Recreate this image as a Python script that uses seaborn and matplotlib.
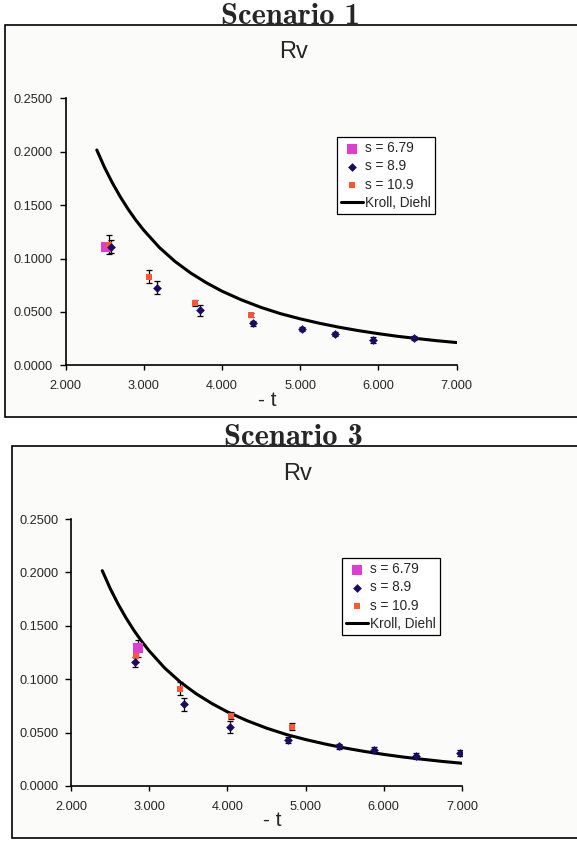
import matplotlib
matplotlib.use("Agg")
import matplotlib.pyplot as plt
from matplotlib.patches import Rectangle
import seaborn as sns
import pandas as pd

# Kroll, Diehl prediction (-t, Rv)
curve_t = [2.40, 2.50, 2.60, 2.70, 2.80, 2.90, 3.00, 3.20, 3.40, 3.60, 3.80, 4.00,
           4.25, 4.50, 4.75, 5.00, 5.25, 5.50, 5.75, 6.00, 6.25, 6.50, 6.75, 7.00]
curve_rv = [0.2016, 0.1851, 0.1707, 0.1578, 0.1462, 0.1358, 0.1265, 0.1103, 0.0972,
            0.0864, 0.0773, 0.0694, 0.0612, 0.0542, 0.0483, 0.0435, 0.0393, 0.0356,
            0.0324, 0.0296, 0.0271, 0.0250, 0.0230, 0.0213]

# Scenario 1 measurements
s1_679_t = [2.52]
s1_679_rv = [0.1105]
s1_679_err = [0.0000]
s1_89_t = [2.585, 3.17, 3.72, 4.40, 5.02, 5.44, 5.93, 6.46]
s1_89_rv = [0.1110, 0.0727, 0.0515, 0.0393, 0.0337, 0.0293, 0.0237, 0.0253]
s1_89_err = [0.0060, 0.0060, 0.0050, 0.0022, 0.0020, 0.0020, 0.0028, 0.0020]
s1_109_t = [2.55, 3.07, 3.66, 4.37]
s1_109_rv = [0.1130, 0.0830, 0.0586, 0.0471]
s1_109_err = [0.0088, 0.0058, 0.0027, 0.0020]

# Scenario 3 measurements
s3_679_t = [2.86]
s3_679_rv = [0.1290]
s3_679_err = [0.0080]
s3_89_t = [2.82, 3.44, 4.03, 4.77, 5.43, 5.88, 6.41, 6.98]
s3_89_rv = [0.1162, 0.0765, 0.0556, 0.0431, 0.0372, 0.0335, 0.0281, 0.0310]
s3_89_err = [0.0045, 0.0063, 0.0056, 0.0028, 0.0022, 0.0028, 0.0030, 0.0030]
s3_109_t = [2.83, 3.39, 4.04, 4.82]
s3_109_rv = [0.1221, 0.0912, 0.0659, 0.0556]
s3_109_err = [0.0060, 0.0063, 0.0030, 0.0030]

x_ticks = [2.0, 3.0, 4.0, 5.0, 6.0, 7.0]
y_ticks = [0.0, 0.05, 0.10, 0.15, 0.20, 0.25]

MAGENTA = "#e03bd2"
NAVY = "#1c0b66"
ORANGE = "#ff5632"
BG = "#fbfbf9"

sns.set_theme(style="white")
plt.rcParams["font.family"] = ["Liberation Sans", "DejaVu Sans"]

fig = plt.figure(figsize=(5.77, 8.43), dpi=100)
fig.patch.set_facecolor("white")
W, H = 577.0, 843.0


def fx(px):
    return px / W


def fy(py):
    return 1 - py / H


def panel(title, title_x, frame, axbox, legbox, rv_pos, xlab_y, series):
    x0, y0, x1, y1 = frame
    fig.patches.append(Rectangle((fx(x0), fy(y1)), fx(x1 - x0), (y1 - y0) / H,
                                 transform=fig.transFigure, facecolor=BG,
                                 edgecolor="black", linewidth=1.2, zorder=-5))
    fig.text(fx(title_x), fy(y0 - 1), title, family="cmb10",
             fontsize=22, ha="center", va="baseline")
    fig.text(fx(rv_pos[0]), fy(rv_pos[1]), "Rv", fontsize=17,
             ha="center", va="center")
    l, t, r, b = axbox
    ax = fig.add_axes([fx(l), fy(b), fx(r - l), (b - t) / H])
    ax.set_zorder(1)
    ax.patch.set_alpha(0)

    sns.lineplot(x=curve_t, y=curve_rv, ax=ax, color="black", linewidth=2.2,
                 label="Kroll, Diehl", zorder=2, sort=False)
    t679, r679, e679, t89, r89, e89, t109, r109, e109 = series
    for tt, rr, ee in ((t679, r679, e679), (t109, r109, e109), (t89, r89, e89)):
        ax.errorbar(tt, rr, yerr=ee, fmt="none", ecolor="black",
                    elinewidth=0.9, capsize=2.2, capthick=0.9, zorder=3)
    df679 = pd.DataFrame({"t": t679, "rv": r679})
    df89 = pd.DataFrame({"t": t89, "rv": r89})
    df109 = pd.DataFrame({"t": t109, "rv": r109})
    sns.scatterplot(data=df679, x="t", y="rv", ax=ax, marker="s", s=48,
                    color=MAGENTA, edgecolor=MAGENTA, linewidth=0,
                    label="s = 6.79", zorder=4)
    sns.scatterplot(data=df89, x="t", y="rv", ax=ax, marker="D", s=20,
                    color=NAVY, edgecolor=NAVY, linewidth=0,
                    label="s = 8.9", zorder=5)
    sns.scatterplot(data=df109, x="t", y="rv", ax=ax, marker="s", s=24,
                    color=ORANGE, edgecolor=ORANGE, linewidth=0,
                    label="s = 10.9", zorder=4)

    ax.set_xlim(2.0, 7.0)
    ax.set_ylim(0.0, 0.25)
    ax.set_xticks(x_ticks)
    ax.set_yticks(y_ticks)
    ax.set_xticklabels([f"{v:.3f}" for v in x_ticks], fontsize=9.2)
    ax.set_yticklabels([f"{v:.4f}" for v in y_ticks], fontsize=9.2)
    ax.tick_params(axis="x", direction="out", length=3.5, width=1,
                   color="black", pad=7, bottom=True)
    ax.tick_params(axis="y", direction="out", length=4, width=1,
                   color="black", pad=5, left=True)
    for side in ("top", "right"):
        ax.spines[side].set_visible(False)
    for side in ("left", "bottom"):
        ax.spines[side].set_color("black")
        ax.spines[side].set_linewidth(1.2)
    ax.set_xlabel("")
    ax.set_ylabel("")
    fig.text(fx((l + r) / 2 + 6), fy(xlab_y), "- t", fontsize=15,
             ha="center", va="center")

    handles, labels = ax.get_legend_handles_labels()
    order = [labels.index(k) for k in ("s = 6.79", "s = 8.9", "s = 10.9", "Kroll, Diehl")]
    lx0, ly0 = legbox
    leg = ax.legend([handles[i] for i in order], [labels[i] for i in order],
                    loc="upper left", bbox_to_anchor=(fx(lx0), fy(ly0)),
                    bbox_transform=fig.transFigure, fontsize=9.8,
                    frameon=True, fancybox=False, edgecolor="black",
                    framealpha=1, handlelength=1.6, handletextpad=0.15,
                    borderpad=0.3, labelspacing=0.32, borderaxespad=0)
    leg.get_frame().set_linewidth(0.9)
    leg.get_frame().set_facecolor("white")
    return ax


panel("Scenario 1", 290, (5, 25, 600, 417), (65.5, 98.3, 456.7, 365.3),
      (337, 137), (294, 52.5), 400,
      (s1_679_t, s1_679_rv, s1_679_err, s1_89_t, s1_89_rv, s1_89_err,
       s1_109_t, s1_109_rv, s1_109_err))
panel("Scenario 3", 293, (12, 446, 600, 838), (71, 519, 462, 786),
      (342, 558), (298, 474), 821,
      (s3_679_t, s3_679_rv, s3_679_err, s3_89_t, s3_89_rv, s3_89_err,
       s3_109_t, s3_109_rv, s3_109_err))

fig.savefig("out.png", dpi=100, facecolor="white")
